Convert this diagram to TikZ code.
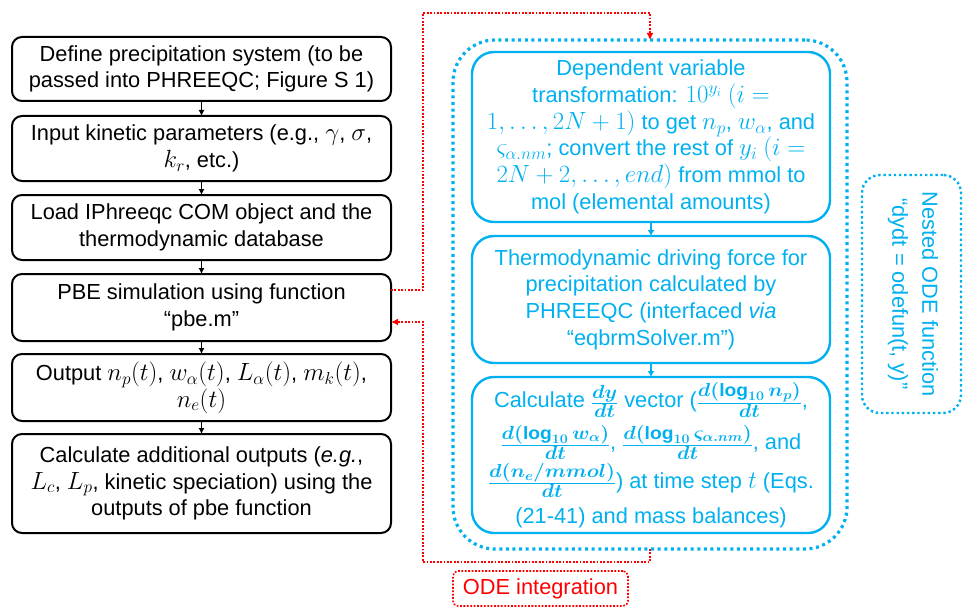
\documentclass[tikz,border=0pt]{standalone}
\usepackage{amsmath}
\usepackage{fontspec}
\setmainfont{Liberation Sans}
\usetikzlibrary{arrows.meta}
\definecolor{skyblue}{RGB}{0,176,240}
\definecolor{linkred}{RGB}{255,0,0}
% slightly larger math next to the sans text
\DeclareMathSizes{21.8}{23.5}{16.5}{12.5}
% bold, compact time derivative with full-size numerator and denominator
\newcommand\drv[2]{\scalebox{0.82}[0.76]{\boldmath$\frac{\raisebox{2pt}{$#1$}}{\raisebox{-1.5pt}{$#2$}}$}}

\begin{document}
\begin{tikzpicture}[x=1pt,y=-1pt,
  every node/.style={inner sep=0pt, outer sep=0pt},
  txt/.style={font=\fontsize{21.8}{26.7}\selectfont, align=center},
  flowbox/.style={txt, draw=black, line width=2pt, rounded corners=10pt,
    minimum width=379pt},
  odebox/.style={txt, draw=skyblue, text=skyblue, line width=2.4pt,
    rounded corners=22pt, minimum width=358pt},
  odeframe/.style={draw=skyblue, line width=3.2pt, rounded corners=42pt,
    dash pattern=on 3pt off 3.6pt, minimum width=394pt, minimum height=509pt},
  nestframe/.style={draw=skyblue, line width=2.4pt,
    rounded corners=18pt, dash pattern=on 2.4pt off 2.8pt},
  blackarrow/.style={-{Latex[length=6pt,width=6pt]}, line width=1pt, black},
  bluearrow/.style={-{Latex[length=6pt,width=7pt]}, line width=1.2pt, skyblue},
  redlink/.style={linkred, line width=1.6pt, dash pattern=on 1.8pt off 1.6pt,
    -{Latex[length=7pt,width=7pt]}},
]
\useasboundingbox (0,0) rectangle (963,607);

% main program flow
\node[flowbox, minimum height=64pt] (b1) at (201.5,69)
  {Define precipitation system (to be\\passed into PHREEQC; Figure S 1)};
\node[flowbox, minimum height=65pt] (b2) at (201.5,148.5)
  {Input kinetic parameters (e.g., $\gamma$, $\sigma$,\\$k_r$, etc.)};
\node[flowbox, minimum height=65pt] (b3) at (201.5,227.5)
  {Load IPhreeqc COM object and the\\thermodynamic database};
\node[flowbox, minimum height=67pt] (b4) at (201.5,307.5)
  {PBE simulation using function\\“pbe.m”};
\node[flowbox, minimum height=67pt] (b5) at (201.5,387.5)
  {Output $n_p(t)$, $w_\alpha(t)$, $L_\alpha(t)$, $m_k(t)$,\\$n_e(t)$};
\node[flowbox, minimum height=99pt] (b6) at (201.5,483.5)
  {Calculate additional outputs (\textit{e.g.},\\$L_c$, $L_p$, kinetic speciation) using the\\outputs of pbe function};

\foreach \a/\b in {b1/b2,b2/b3,b3/b4,b4/b5,b5/b6}
  \draw[blackarrow] (\a.south) -- (\b.north);

% nested ODE function
\node[odeframe] (outer) at (650,294.5) {};
\node[odebox, minimum height=170pt] (i1) at (651,137)
  {Dependent variable\\transformation: $10^{y_i}$ $(i =$\\$1,\dots,2N+1)$ to get $n_p$, $w_\alpha$, and\\$\varsigma_{\alpha.nm}$; convert the rest of $y_i$ $(i =$\\$2N+2,\dots,end)$ from mmol to\\mol (elemental amounts)};
\node[odebox, minimum height=127pt] (i2) at (651,299.5)
  {Thermodynamic driving force for\\precipitation calculated by\\PHREEQC (interfaced \textit{via}\\“eqbrmSolver.m”)};
\node[odebox, minimum height=156pt, font=\fontsize{21.8}{37}\selectfont] (i3) at (651,455)
  {Calculate \drv{d\boldsymbol{y}}{dt} vector (\drv{d(\log_{10} n_p)}{dt},\\[5pt]
   \drv{d(\log_{10} w_\alpha)}{dt}, \drv{d(\log_{10} \varsigma_{\alpha.nm})}{dt}, and\\[1.5pt]
   \drv{d(n_e/mmol)}{dt}) at time step $t$ (Eqs.\\[-2pt](21-41) and mass balances)};

\draw[bluearrow] (i1.south) -- (i2.north);
\draw[bluearrow] (i2.south) -- (i3.north);

\node[nestframe, minimum width=99pt, minimum height=238pt] (nest) at (911.5,294) {};
\node[txt, font=\fontsize{21.8}{30}\selectfont, text=skyblue, rotate=-90]
  (nestlabel) at (913,294) {Nested ODE function\\“dydt = odefun(t, y)”};

% ODE integration loop
\node[txt, draw=linkred, text=linkred, line width=1.6pt, rounded corners=5pt,
  dash pattern=on 1.8pt off 1.6pt, minimum width=175pt, minimum height=35pt]
  (integ) at (540.5,588.5) {ODE integration};

\coordinate (loopin) at (423,322);
\draw[redlink] ([yshift=17.5pt]b4.east) -- ++(32,0) -- ++(0,-277) -| (outer.north);
\draw[redlink] (outer.south) -- ++(0,13) -| (loopin) -- (loopin -| b4.east);
\end{tikzpicture}
\end{document}
